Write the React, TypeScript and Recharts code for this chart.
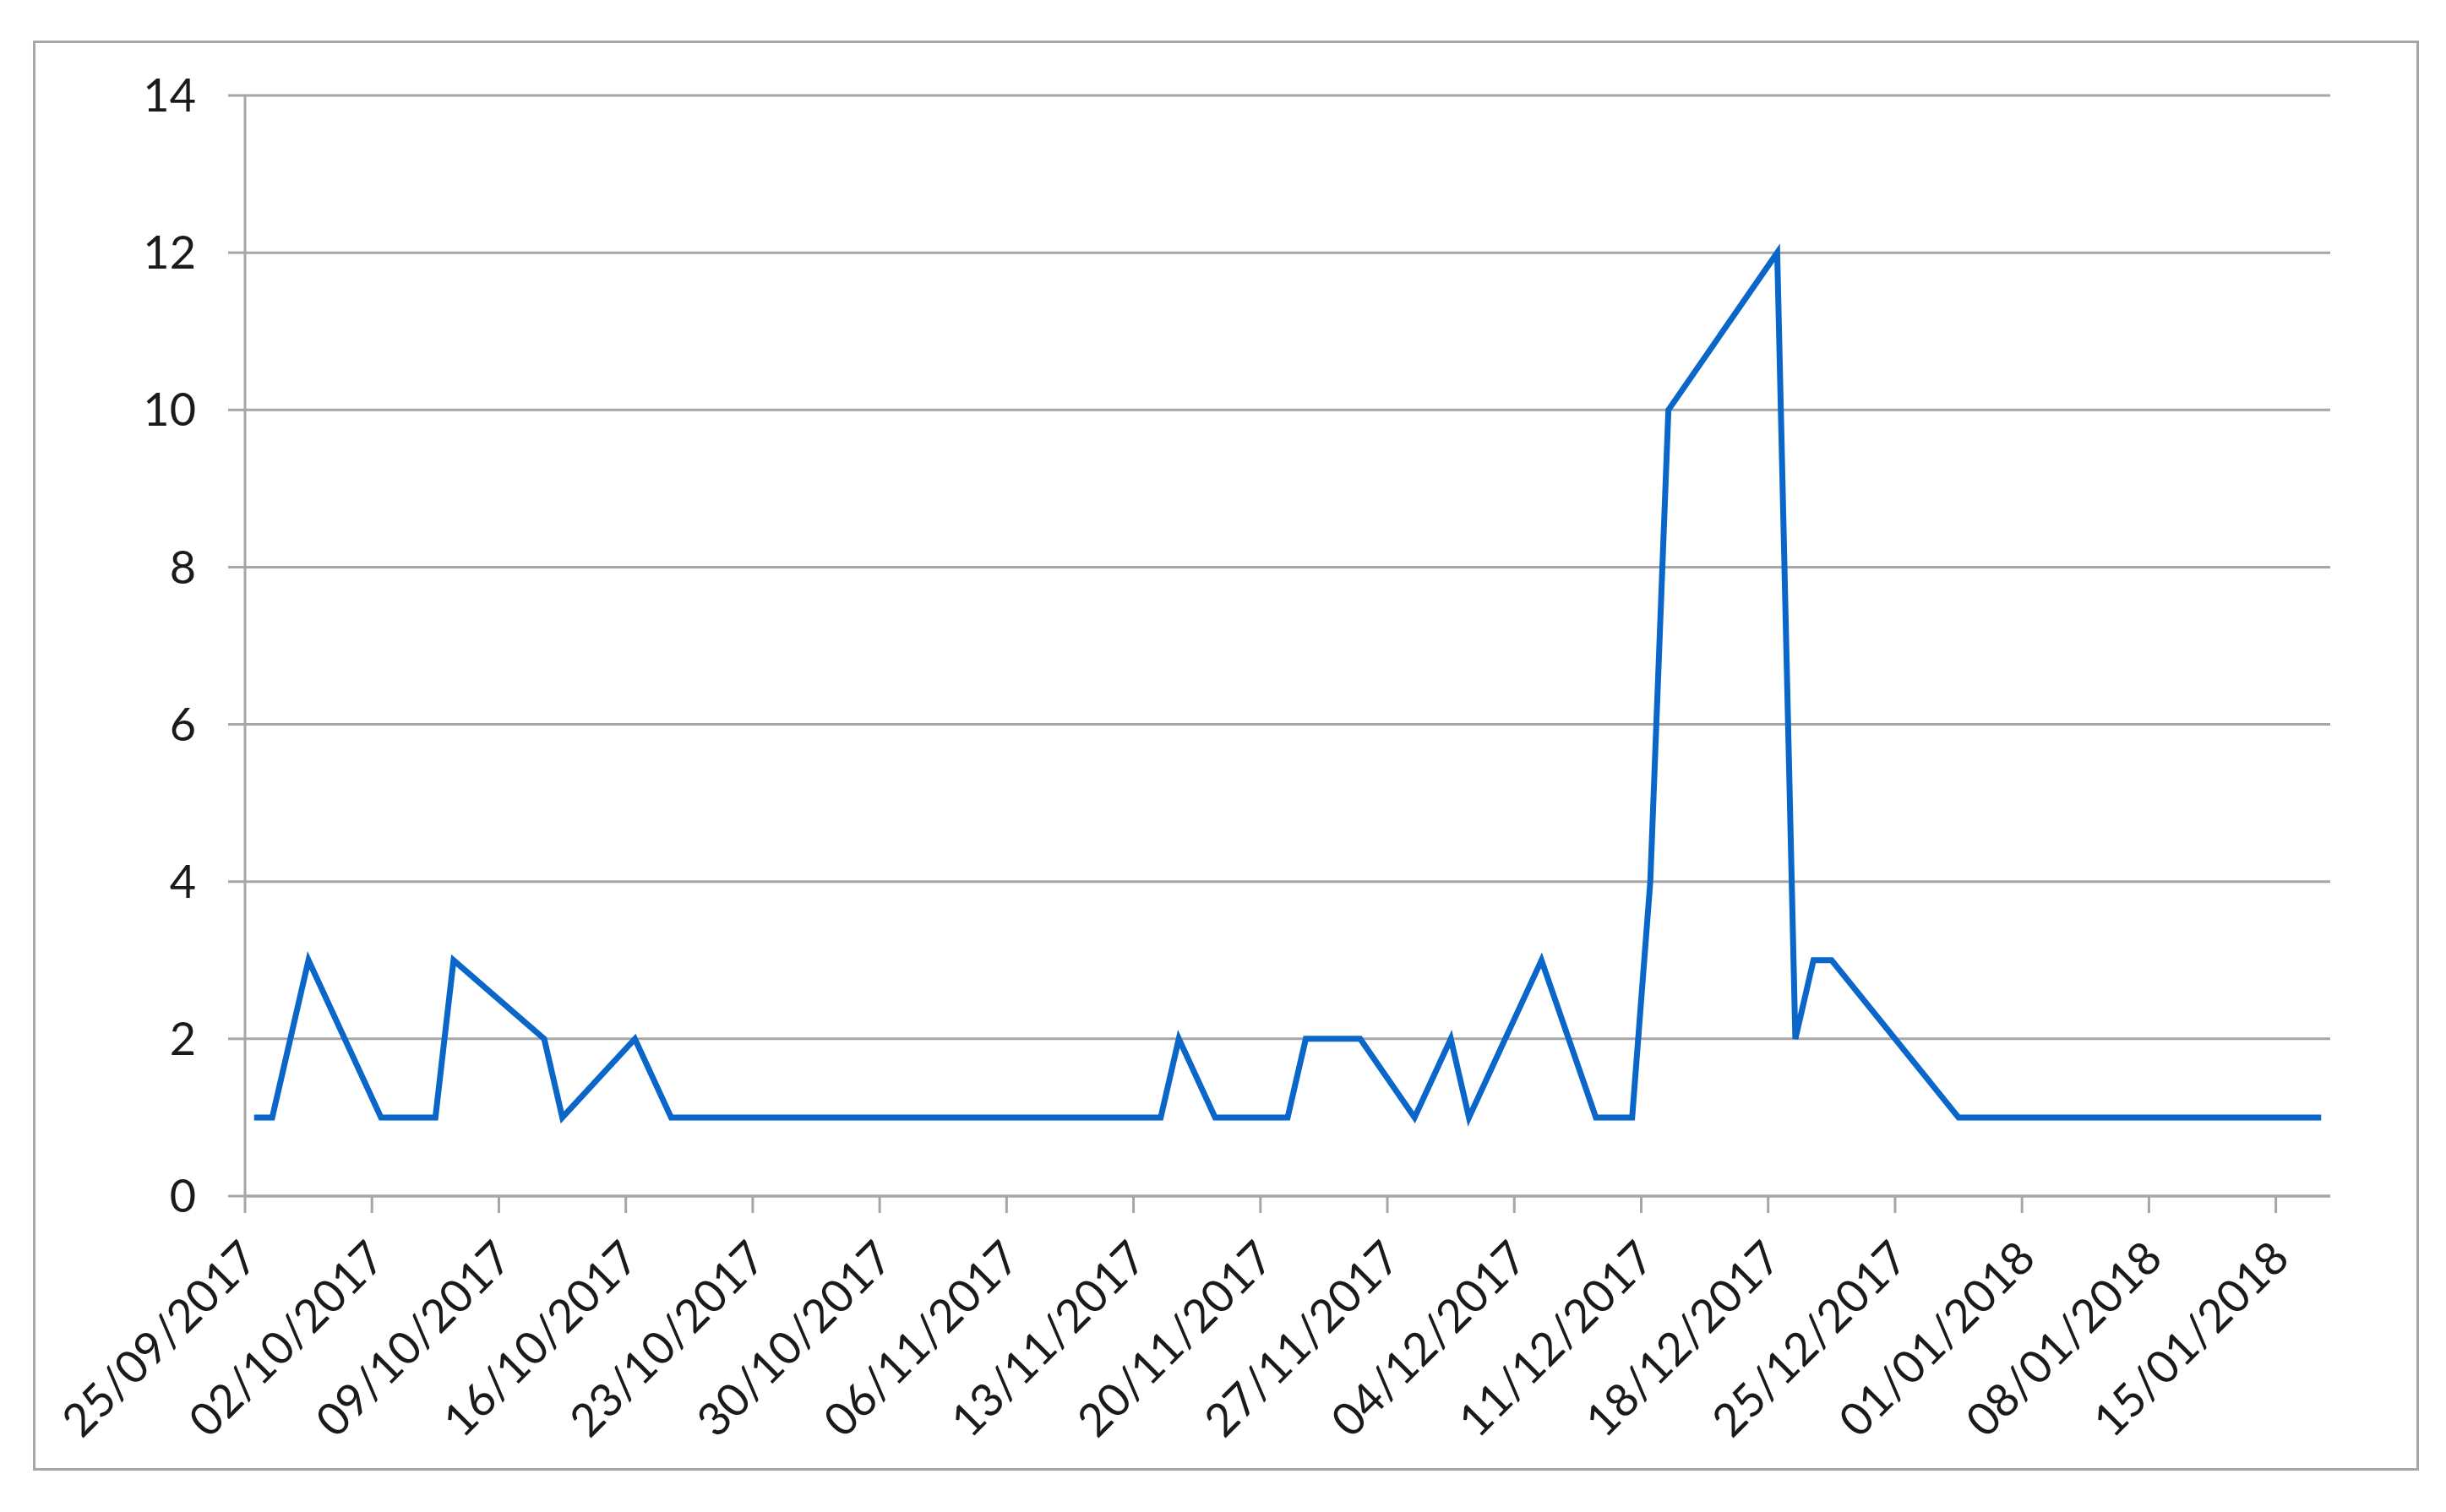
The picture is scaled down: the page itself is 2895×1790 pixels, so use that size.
import React from 'react';
import { LineChart, Line, XAxis, YAxis, CartesianGrid } from 'recharts';

// dates where the line changes direction, and the count on that day
const dates = [
  '25/09/2017', '26/09/2017', '28/09/2017', '02/10/2017', '05/10/2017',
  '06/10/2017', '11/10/2017', '12/10/2017', '16/10/2017', '18/10/2017',
  '14/11/2017', '15/11/2017', '17/11/2017', '21/11/2017', '22/11/2017',
  '25/11/2017', '28/11/2017', '30/11/2017', '01/12/2017', '05/12/2017',
  '08/12/2017', '10/12/2017', '11/12/2017', '12/12/2017', '18/12/2017',
  '19/12/2017', '20/12/2017', '21/12/2017', '28/12/2017', '17/01/2018',
];
const counts = [
  1, 1, 3, 1, 1,
  3, 2, 1, 2, 1,
  1, 2, 1, 1, 2,
  2, 1, 2, 1, 3,
  1, 1, 4, 10, 12,
  2, 3, 3, 1, 1,
];

const xTickLabels = [
  '25/09/2017', '02/10/2017', '09/10/2017', '16/10/2017', '23/10/2017',
  '30/10/2017', '06/11/2017', '13/11/2017', '20/11/2017', '27/11/2017',
  '04/12/2017', '11/12/2017', '18/12/2017', '25/12/2017', '01/01/2018',
  '08/01/2018', '15/01/2018',
];
const yTicks = [0, 2, 4, 6, 8, 10, 12, 14];

const axisStart = '25/09/2017';
const axisEnd = '18/01/2018';

const FONT = 'Lato, "Open Sans", sans-serif';
const GRID = '#a6a6a6';

// days since the first axis date
function dayIndex(s: string) {
  const [d, m, y] = s.split('/').map(Number);
  const [d0, m0, y0] = axisStart.split('/').map(Number);
  return Math.round((Date.UTC(y, m - 1, d) - Date.UTC(y0, m0 - 1, d0)) / 86400000);
}

// excel puts each point in the middle of its day slot
const chartData = dates.map((d, i) => ({ day: dayIndex(d) + 0.5, value: counts[i] }));
const xTicks = xTickLabels.map(dayIndex);

function DateTick(props: any) {
  const { x, y, payload } = props;
  const label = xTickLabels[xTicks.indexOf(payload.value)];
  return (
    <g transform={`translate(${x + 4},${y + 40})`}>
      <text
        x={0}
        y={0}
        transform="rotate(-45)"
        textAnchor="end"
        dominantBaseline="central"
        fontFamily={FONT}
        fontSize={54}
        fill="#1a1a1a"
      >
        {label}
      </text>
    </g>
  );
}

export default function App() {
  return (
    <div style={{ position: 'absolute', left: 0, top: 0, width: 2895, height: 1790, background: '#fff' }}>
      <div
        style={{
          position: 'absolute',
          left: 39,
          top: 48,
          width: 2824,
          height: 1693,
          border: `3px solid ${GRID}`,
          boxSizing: 'border-box',
        }}
      />
      <div style={{ position: 'absolute', left: 0, top: 0 }}>
        <LineChart
          width={2895}
          height={1790}
          data={chartData}
          margin={{ top: 113, right: 137, left: 190, bottom: 74 }}
        >
          <CartesianGrid vertical={false} stroke={GRID} strokeWidth={3} />
          <XAxis
            dataKey="day"
            type="number"
            domain={[0, dayIndex(axisEnd)]}
            ticks={xTicks}
            interval={0}
            height={300}
            tickSize={20}
            stroke={GRID}
            strokeWidth={3}
            tick={<DateTick />}
          />
          <YAxis
            type="number"
            domain={[0, 14]}
            ticks={yTicks}
            interval={0}
            width={100}
            tickSize={20}
            tickMargin={38}
            stroke={GRID}
            strokeWidth={3}
            tick={{ fontFamily: FONT, fontSize: 54, fill: '#1a1a1a' }}
          />
          <Line
            type="linear"
            dataKey="value"
            stroke="#0a66c8"
            strokeWidth={7}
            dot={false}
            strokeLinejoin="miter"
            isAnimationActive={false}
          />
        </LineChart>
      </div>
    </div>
  );
}
